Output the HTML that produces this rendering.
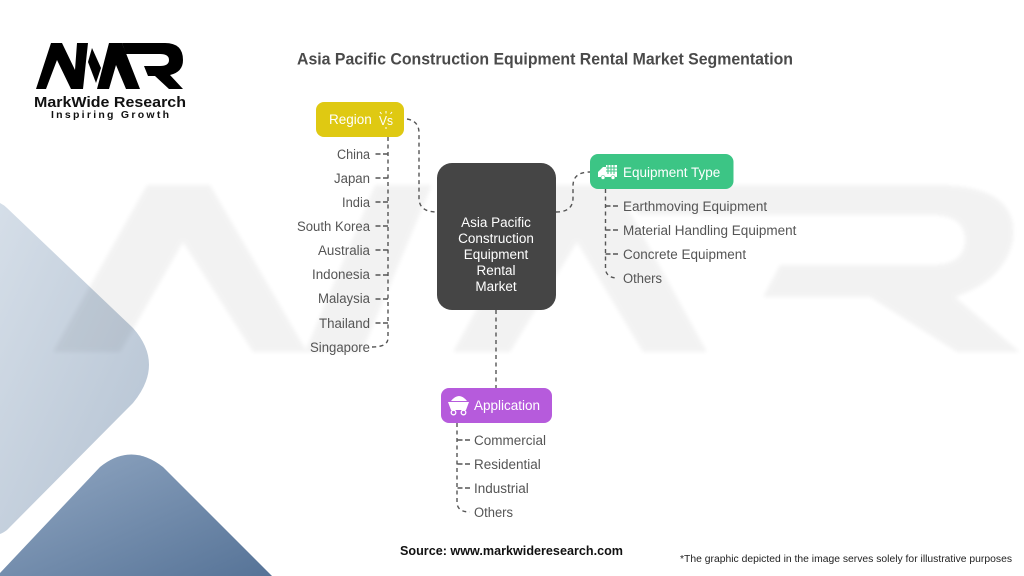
<!DOCTYPE html>
<html><head><meta charset="utf-8"><style>
html,body{margin:0;padding:0;background:#fff;width:1024px;height:576px;overflow:hidden}
svg{display:block}
text{font-family:"Liberation Sans",sans-serif}
.l{font-size:13.5px;fill:#555}
.n{font-size:13.5px;fill:#fff}
.c{fill:none;stroke:#555;stroke-width:1.4;stroke-dasharray:4 3.5}
.t{fill:none;stroke:#555;stroke-width:1.4;stroke-dasharray:5 2.5}
</style></head><body>
<svg width="1024" height="576" viewBox="0 0 1024 576" xmlns="http://www.w3.org/2000/svg">
<defs>
<linearGradient id="a" x1="0" y1="0" x2="1" y2="1"><stop offset="0" stop-color="#d5dee8"/><stop offset="1" stop-color="#b4c2d2"/></linearGradient>
<linearGradient id="b" x1="0" y1="0" x2="1" y2="1"><stop offset="0" stop-color="#92a8c3"/><stop offset="1" stop-color="#567397"/></linearGradient>
<filter id="s" x="-5%" y="-5%" width="110%" height="110%"><feGaussianBlur stdDeviation="2"/></filter>
</defs>
<rect width="1024" height="576" fill="#fff"/>
<path d="M0,203 Q4,205 7,208 L133,328 Q165,364 133,403 L7,530 Q3,533 0,534 Z" fill="url(#a)"/>
<path d="M0,573 L100,467 Q131,442 163,467 L272,576 L0,576 Z" fill="url(#b)"/>
<g opacity=".048" fill="#000" filter="url(#s)">
<polygon points="53,352 147,185 210,185 307,352 253,352 183,242 120,352"/>
<polygon points="305,352 375,185 432,185 362,352"/>
<polygon points="453,352 545,185 615,185 707,352 643,352 577,242 510,352"/>
<path d="M600,185H935Q1020,185 1013,240Q1005,280 955,297L1020,352H957L870,297H763L780,265H930Q965,265 965,240Q965,215 930,215H640Z"/>
</g>
<g fill="#000">
<polygon points="36,89 51,43 62,43 75,70 77,43 88,43 83,89 71,89 57,60 46,89"/>
<polygon points="92,48 101,68 96,83 88,62"/>
<polygon points="97,89 109,43 122,43 140,89 126,89 116,65 109,89"/>
<path d="M122,43H165Q183,43 183,60Q183,72 170,75L183,89H169L155,76H148L144,66H160Q169,66 169,60Q169,54 160,54H126Z"/>
</g>
<text x="34" y="107" font-size="14.5" font-weight="bold" fill="#111" textLength="152" lengthAdjust="spacingAndGlyphs">MarkWide Research</text>
<text x="51" y="118" font-size="10.5" font-weight="bold" fill="#111" textLength="118">Inspiring Growth</text>
<text x="297" y="64.500" font-size="16.5" font-weight="bold" fill="#4a4a4a" textLength="496" lengthAdjust="spacingAndGlyphs">Asia Pacific Construction Equipment Rental Market Segmentation</text>

<path class="c" d="M407,119 Q419,121 419,133 V198 Q419,212 437,212"/>
<path class="c" d="M556,212 Q573,212 573,198 V186 Q573,172 590,172"/>
<path class="c" d="M496,310 V388"/>
<path class="c" d="M388,137 V338 Q388,347 372,347"/>
<path class="t" d="M375.500,154H388M375.500,178H388M375.500,202H388M375.500,226H388M375.500,250H388M375.500,275H388M375.500,299H388M375.500,323H388"/>
<path class="c" d="M605.500,189 V268 Q605.500,278 618,278"/>
<path class="t" d="M618,206H605M618,230H605M618,254H605"/>
<path class="c" d="M457,423 V502 Q457,512 470,512"/>
<path class="t" d="M470,440H457M470,464H457M470,488H457"/>

<rect x="316" y="102" width="88" height="35" rx="8" fill="#dfc912"/>
<rect x="437" y="163" width="119" height="147" rx="15" fill="#454545"/>
<rect x="590" y="154" width="143.500" height="35" rx="8" fill="#3cc585"/>
<rect x="441" y="388" width="111" height="35" rx="8" fill="#b65bdc"/>

<text class="n" x="329" y="124">Region</text>
<text x="379" y="125" font-size="13" fill="#fff" textLength="14" lengthAdjust="spacingAndGlyphs">Vs</text>
<path d="M386,111v2.500M380,112l1.500,2M392,112l-1.500,2M386,127v2" stroke="#fff" stroke-width="1"/>
<text class="n" x="623" y="177">Equipment Type</text>
<path d="M598,176V172L603,167H608V176Z" fill="#fff"/>
<rect x="606" y="165" width="11" height="10" fill="#fff"/>
<path d="M608,165v10M611,165v10M614,165v10M606,168h11M606,171h11" stroke="#3cc585"/>
<rect x="598" y="174" width="19" height="3" fill="#fff"/>
<circle cx="603" cy="177.500" r="2" fill="#fff" stroke="#3cc585" stroke-width=".6"/><circle cx="613" cy="177.500" r="2" fill="#fff" stroke="#3cc585" stroke-width=".6"/>
<text class="n" x="474" y="410">Application</text>
<path d="M451,401Q459,391 467,401Z" fill="#fff"/>
<path d="M448,402H469L466,410H451Z" fill="#fff"/>
<circle cx="453.500" cy="412.500" r="2.300" fill="none" stroke="#fff" stroke-width="1.300"/><circle cx="463.500" cy="412.500" r="2.300" fill="none" stroke="#fff" stroke-width="1.300"/>

<g text-anchor="middle">
<text class="n" x="496" y="227">Asia Pacific</text>
<text class="n" x="496" y="243">Construction</text>
<text class="n" x="496" y="259">Equipment</text>
<text class="n" x="496" y="275">Rental</text>
<text class="n" x="496" y="291">Market</text>
</g>
<g text-anchor="end">
<text class="l" x="370" y="159" textLength="33" lengthAdjust="spacingAndGlyphs">China</text>
<text class="l" x="370" y="183" textLength="36" lengthAdjust="spacingAndGlyphs">Japan</text>
<text class="l" x="370" y="207" textLength="28" lengthAdjust="spacingAndGlyphs">India</text>
<text class="l" x="370" y="231" textLength="73" lengthAdjust="spacingAndGlyphs">South Korea</text>
<text class="l" x="370" y="255" textLength="52" lengthAdjust="spacingAndGlyphs">Australia</text>
<text class="l" x="370" y="279" textLength="58" lengthAdjust="spacingAndGlyphs">Indonesia</text>
<text class="l" x="370" y="303" textLength="52" lengthAdjust="spacingAndGlyphs">Malaysia</text>
<text class="l" x="370" y="328" textLength="51" lengthAdjust="spacingAndGlyphs">Thailand</text>
<text class="l" x="370" y="352" textLength="60" lengthAdjust="spacingAndGlyphs">Singapore</text>
</g>
<text class="l" x="623" y="211">Earthmoving Equipment</text>
<text class="l" x="623" y="235">Material Handling Equipment</text>
<text class="l" x="623" y="259">Concrete Equipment</text>
<text class="l" x="623" y="283" textLength="39" lengthAdjust="spacingAndGlyphs">Others</text>
<text class="l" x="474" y="445">Commercial</text>
<text class="l" x="474" y="469">Residential</text>
<text class="l" x="474" y="493">Industrial</text>
<text class="l" x="474" y="517" textLength="39" lengthAdjust="spacingAndGlyphs">Others</text>

<text x="400" y="555" font-size="12.500" font-weight="bold" fill="#111" textLength="223" lengthAdjust="spacingAndGlyphs">Source: www.markwideresearch.com</text>
<text x="680" y="562" font-size="10" fill="#222" textLength="332" lengthAdjust="spacingAndGlyphs">*The graphic depicted in the image serves solely for illustrative purposes</text>
</svg>
</body></html>
